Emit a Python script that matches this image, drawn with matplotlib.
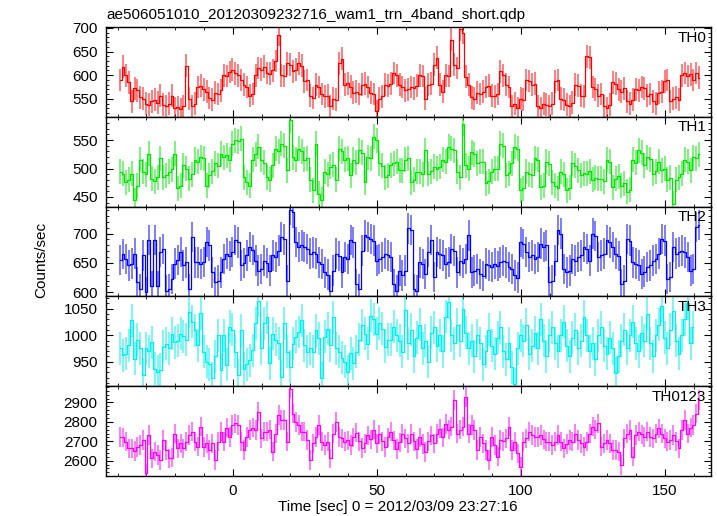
import numpy as np
import matplotlib
matplotlib.use("Agg")
import matplotlib.pyplot as plt
from matplotlib.ticker import MultipleLocator

plt.rcParams["font.family"] = ["Liberation Sans", "DejaVu Sans"]

TITLE = "ae506051010_20120309232716_wam1_trn_4band_short.qdp"
X_LABEL = "Time [sec] 0 = 2012/03/09 23:27:16"
Y_LABEL = "Counts/sec"

# light curve bins: 1 s, first bin starts at -39.6 s
t_start = -39.6
bin_sec = 1.0

bands = ["TH0", "TH1", "TH2", "TH3", "TH0123"]
err_half = [24, 22, 26, 31, 50]

th0 = [
    590, 618, 600, 585, 545, 572, 568, 553, 550, 540,
    538, 545, 548, 542, 557, 538, 535, 540, 557, 530,
    532, 528, 535, 620, 550, 535, 540, 575, 578, 570,
    565, 552, 548, 563, 560, 568, 600, 598, 607, 612,
    604, 600, 590, 580, 575, 557, 560, 600, 615, 612,
    618, 605, 603, 610, 630, 686, 600, 598, 625, 622,
    608, 612, 625, 620, 587, 590, 557, 552, 580, 575,
    560, 555, 557, 535, 550, 548, 625, 635, 580, 583,
    576, 563, 565, 560, 580, 582, 575, 563, 560, 524,
    550, 555, 580, 578, 582, 605, 600, 580, 575, 568,
    570, 575, 572, 578, 600, 598, 550, 580, 582, 622,
    637, 580, 565, 600, 598, 675, 622, 615, 697, 690,
    597, 580, 553, 550, 563, 560, 565, 575, 578, 557,
    555, 560, 608, 600, 580, 575, 535, 540, 530, 550,
    548, 590, 588, 580, 582, 535, 530, 540, 538, 535,
    540, 587, 590, 550, 548, 538, 535, 542, 580, 578,
    557, 555, 640, 638, 575, 570, 557, 560, 535, 530,
    538, 585, 582, 570, 565, 572, 545, 540, 548, 570,
    568, 575, 572, 557, 560, 545, 540, 563, 565, 587,
    590, 545, 550, 553, 548, 600, 605, 598, 602, 590,
    605, 595,
]

th1 = [
    494, 491, 476, 480, 491, 444, 470, 515, 494, 490,
    526, 482, 478, 485, 518, 485, 488, 494, 499, 526,
    465, 470, 506, 500, 482, 490, 515, 512, 520, 518,
    470, 488, 495, 509, 505, 526, 520, 523, 515, 544,
    550, 548, 552, 485, 476, 470, 515, 525, 538, 515,
    510, 485, 480, 506, 535, 530, 544, 540, 497, 585,
    520, 515, 535, 530, 515, 518, 480, 462, 544, 456,
    445, 494, 490, 503, 507, 480, 535, 530, 515, 518,
    488, 515, 510, 532, 528, 476, 520, 518, 556, 550,
    509, 505, 485, 488, 506, 509, 512, 497, 497, 515,
    518, 476, 480, 494, 494, 490, 532, 491, 495, 503,
    500, 503, 515, 512, 538, 535, 532, 494, 485, 579,
    506, 500, 529, 525, 509, 512, 512, 474, 478, 494,
    500, 500, 544, 540, 488, 492, 509, 538, 535, 462,
    465, 494, 490, 488, 518, 515, 467, 470, 512, 508,
    476, 470, 465, 494, 490, 462, 466, 509, 505, 497,
    488, 492, 491, 495, 480, 484, 482, 482, 478, 515,
    512, 467, 482, 486, 470, 474, 459, 463, 515, 510,
    532, 528, 506, 520, 516, 491, 495, 512, 497, 500,
    480, 484, 438, 480, 485, 491, 515, 512, 497, 520,
    518, 525,
]

th2 = [
    655, 665, 657, 646, 649, 666, 617, 605, 663, 600,
    689, 611, 689, 611, 669, 674, 603, 606, 623, 649,
    655, 669, 646, 651, 606, 694, 651, 651, 648, 652,
    686, 680, 634, 617, 620, 634, 657, 666, 662, 669,
    689, 685, 646, 650, 663, 677, 672, 654, 637, 640,
    654, 650, 637, 663, 660, 671, 694, 690, 620, 740,
    736, 686, 677, 680, 677, 674, 666, 668, 666, 651,
    648, 634, 630, 603, 637, 666, 662, 634, 660, 657,
    689, 685, 614, 606, 671, 697, 694, 691, 688, 654,
    657, 660, 666, 663, 660, 614, 603, 637, 629, 637,
    709, 706, 606, 603, 651, 648, 631, 669, 689, 626,
    669, 665, 663, 649, 652, 674, 670, 634, 654, 650,
    657, 697, 634, 637, 640, 631, 628, 649, 646, 643,
    649, 645, 651, 654, 651, 643, 640, 629, 625, 686,
    682, 669, 660, 663, 657, 660, 683, 677, 680, 617,
    620, 654, 706, 700, 640, 634, 637, 657, 654, 660,
    663, 677, 674, 654, 700, 696, 660, 663, 666, 689,
    685, 677, 666, 662, 614, 620, 691, 688, 651, 649,
    646, 631, 635, 643, 646, 654, 657, 666, 691, 688,
    623, 626, 677, 666, 669, 671, 668, 660, 637, 640,
    711, 715,
]

th3 = [
    975, 962, 965, 981, 1028, 956, 991, 975, 925, 975, 970,
    987, 937, 931, 935, 978, 984, 975, 1003, 987, 990, 1003, 998,
    991, 1044, 1025, 1009, 981, 1041, 969, 950, 945, 919, 960,
    1000, 934, 1000, 944, 1016, 1010, 969, 925, 1009, 937, 945,
    953, 972, 1022, 1065, 975, 1022, 1034, 947, 1003, 991, 985,
    922, 1022, 969, 941, 984, 997, 1006, 1028, 981, 969, 975,
    969, 1009, 994, 919, 997, 1012, 981, 1034, 975, 969, 958,
    950, 931, 966, 947, 969, 991, 1019, 1003, 984, 1037, 1030,
    1003, 1022, 1012, 978, 991, 991, 1016, 1000, 990, 969, 1047,
    985, 1010, 960, 995, 1020, 975, 990, 950, 1005, 1015,
    980, 1000, 970, 1035, 1062, 1000, 985, 1020, 990, 1050,
    1005, 975, 990, 960, 1000, 985, 945, 970, 1010, 980,
    965, 995, 1015, 970, 955, 985, 940, 908, 975, 1000,
    990, 1020, 965, 980, 1005, 975, 1030, 990, 960, 1000,
    1015, 985, 970, 1000, 1025, 980, 960, 995, 1010, 975,
    990, 1035, 1000, 970, 985, 955, 1000, 1015, 980, 965,
    995, 975, 928, 960, 990, 1010, 975, 1000, 1025, 985,
    970, 1005, 990, 1040, 985, 960, 1000, 1020, 1055, 995,
    975, 1010, 1045, 990, 965, 1000, 1030, 1060, 985, 1015,
]

th0123 = [
    2723, 2720, 2698, 2663, 2663, 2650, 2670, 2680, 2706, 2535,
    2732, 2612, 2646, 2630, 2603, 2706, 2655, 2612, 2615, 2740,
    2663, 2690, 2663, 2698, 2732, 2749, 2698, 2672, 2775, 2670,
    2689, 2655, 2689, 2603, 2698, 2749, 2698, 2770, 2723, 2783,
    2792, 2783, 2698, 2655, 2723, 2758, 2770, 2758, 2852, 2715,
    2749, 2749, 2760, 2646, 2740, 2835, 2809, 2809, 2698, 2972,
    2843, 2800, 2783, 2749, 2749, 2706, 2603, 2690, 2723, 2783,
    2698, 2680, 2698, 2612, 2740, 2800, 2723, 2715, 2698, 2705,
    2680, 2720, 2745, 2700, 2665, 2690, 2730, 2710, 2760, 2690,
    2735, 2700, 2670, 2720, 2750, 2705, 2660, 2695, 2740, 2715,
    2690, 2740, 2700, 2660, 2720, 2685, 2645, 2700, 2730, 2690,
    2740, 2765, 2720, 2790, 2760,
    2775, 2912, 2740, 2760, 2775, 2929, 2740, 2783, 2758, 2655,
    2723, 2690, 2655, 2603, 2723, 2680, 2620, 2706, 2700, 2715,
    2775, 2655, 2698, 2638, 2569, 2698, 2715, 2749, 2732, 2723,
    2723, 2732, 2710, 2698, 2698, 2680, 2698, 2732, 2698, 2663,
    2685, 2706, 2698, 2740, 2706, 2689, 2672, 2698, 2740, 2775,
    2760, 2792, 2672, 2689, 2706, 2689, 2655, 2655, 2646, 2578,
    2715, 2740, 2758, 2620, 2732, 2749, 2735, 2723, 2749, 2723,
    2715, 2740, 2766, 2740, 2715, 2698, 2706, 2732, 2700, 2663,
    2758, 2809, 2740, 2770, 2783, 2843, 2912,
]

series = [th0, th1, th2, th3, th0123]

colors = ["#ff0000", "#00e600", "#0000ff", "#00f0f0", "#ff00ff"]
y_limits = [(512, 702), (433, 591), (593, 746), (904, 1073), (2521, 2984)]
y_major = [50, 50, 50, 50, 100]
y_minor = [10, 10, 10, 10, 20]
fs = 11

fig, axes = plt.subplots(5, 1, sharex=True, figsize=(7.17, 5.16), dpi=100)
fig.subplots_adjust(left=106 / 717, right=711 / 717, top=1 - 27 / 516,
                    bottom=1 - 476 / 516, hspace=0)

for i, ax in enumerate(axes):
    vals = np.asarray(series[i], dtype=float)
    t = t_start + bin_sec * (np.arange(len(vals)) + 0.5)
    ax.vlines(t, vals - err_half[i], vals + err_half[i], color=colors[i],
              lw=1.3, alpha=0.55)
    ax.step(t, vals, where="mid", color=colors[i], lw=0.9)

    ax.set_xlim(-44, 166)
    ax.set_ylim(*y_limits[i])
    ax.xaxis.set_major_locator(MultipleLocator(50))
    ax.xaxis.set_minor_locator(MultipleLocator(10))
    ax.yaxis.set_major_locator(MultipleLocator(y_major[i]))
    ax.yaxis.set_minor_locator(MultipleLocator(y_minor[i]))
    ax.tick_params(which="both", direction="in", top=True, right=True,
                   labelsize=fs, color="black")
    ax.tick_params(which="major", length=5, width=0.8, pad=6)
    ax.tick_params(which="minor", length=2.5, width=0.6)
    for sp in ax.spines.values():
        sp.set_linewidth(1.0)
    ax.text(0.992, 0.883, bands[i], transform=ax.transAxes, ha="right",
            va="center", fontsize=fs)

fig.text(106 / 717, 1 - 19.5 / 516, TITLE, ha="left", va="baseline", fontsize=fs)
fig.text(398 / 717, 1 - 507 / 516, X_LABEL, ha="center", va="center", fontsize=fs)
fig.text(41 / 717, 1 - 260 / 516, Y_LABEL, ha="center", va="center",
         rotation=90, fontsize=fs)

fig.savefig("out.png", dpi=100)
